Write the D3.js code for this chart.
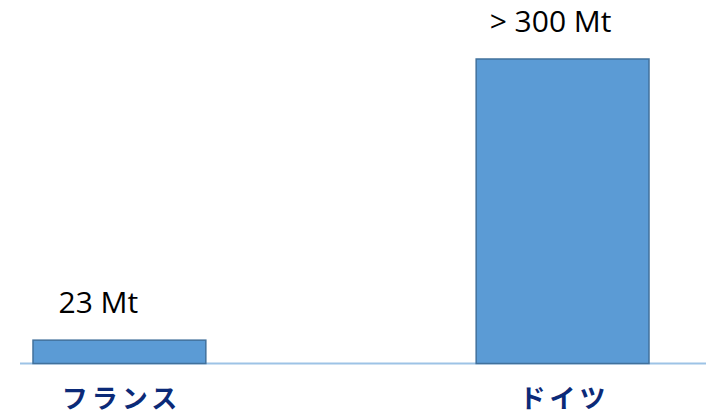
<!DOCTYPE html>
<html>
<head>
  <meta charset="utf-8">
  <script src="https://cdn.jsdelivr.net/npm/d3@7"></script>
  <style>
    body { margin: 0; background: #fff; }
  </style>
</head>
<body>
  <div id="chart"></div>
  <script>
    // data
    const countries = ["フランス", "ドイツ"]
    const values = [23, 300]
    const valueLabels = ["23 Mt", "> 300 Mt"]

    const width = 706
    const height = 419
    const baseline = 363.5

    const svg = d3.select("#chart")
      .append("svg")
      .attr("width", width)
      .attr("height", height)

    const x = d3.scaleBand()
      .domain(countries)
      .range([33, 649])
      .paddingInner(0.61)
      .paddingOuter(0)

    const y = d3.scaleLinear()
      .domain([0, 300])
      .range([baseline, 59])

    // baseline
    svg.append("line")
      .attr("x1", 20)
      .attr("x2", width)
      .attr("y1", baseline)
      .attr("y2", baseline)
      .style("stroke", "#9dc3e6")
      .style("stroke-width", 2)

    svg.append("g")
      .selectAll("rect")
      .data(countries)
      .enter()
      .append("rect")
      .attr("x", d => x(d))
      .attr("y", (d, i) => y(values[i]))
      .attr("width", x.bandwidth())
      .attr("height", (d, i) => baseline - y(values[i]))
      .attr("fill", "#5b9bd5")
      .attr("stroke", "#41719c")
      .attr("stroke-width", 1.5)

    // value labels sit a bit left of the bar centre
    const labelShift = [-21, -12]
    svg.append("g")
      .selectAll("text")
      .data(valueLabels)
      .enter()
      .append("text")
      .attr("x", (d, i) => x(countries[i]) + x.bandwidth() / 2 + labelShift[i])
      .attr("y", (d, i) => y(values[i]) - 27)
      .attr("text-anchor", "middle")
      .style("font-family", "'Open Sans', sans-serif")
      .style("font-size", "30px")
      .style("fill", "#000")
      .text(d => d)

    // category labels
    svg.append("g")
      .selectAll("text")
      .data(countries)
      .enter()
      .append("text")
      .attr("x", d => x(d) + x.bandwidth() / 2 + 2)
      .attr("y", 408)
      .attr("text-anchor", "middle")
      .style("font-family", "'Noto Sans CJK JP', sans-serif")
      .style("font-weight", "bold")
      .style("font-size", "26px")
      .style("letter-spacing", "4px")
      .style("fill", "#0b2a78")
      .text(d => d)
  </script>
</body>
</html>
